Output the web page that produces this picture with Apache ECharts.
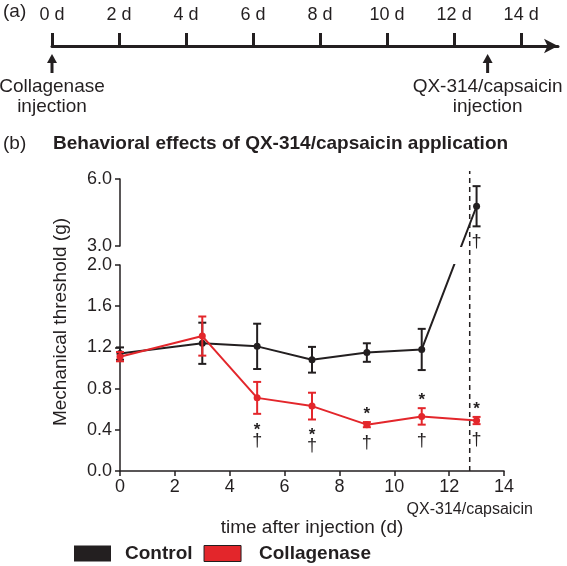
<!DOCTYPE html>
<html><head><meta charset="utf-8">
<script src="https://cdn.jsdelivr.net/npm/echarts@6/dist/echarts.min.js"></script>
<style>html,body{margin:0;padding:0;background:#fff}#c{width:567px;height:566px}</style>
</head><body><div id="c"></div>
<script>
// ---------- data ----------
const days = [0, 3, 5, 7, 9, 11, 13];
const controlMean = [1.14, 1.24, 1.21, 1.08, 1.15, 1.18, 4.78];
const controlErr = [0.06, 0.20, 0.22, 0.125, 0.09, 0.20, 0.90];
const collagenaseMean = [1.11, 1.31, 0.71, 0.63, 0.45, 0.53, 0.49];
const collagenaseErr = [0.045, 0.19, 0.155, 0.13, 0.025, 0.08, 0.035];
// significance marks: star side 0 none, 1 below, 2 above ; dagger 0/1
const colStarSide = [0, 0, 1, 1, 2, 2, 2];
const colDagger = [0, 0, 1, 1, 1, 1, 1];
const ctrlDagger = [0, 0, 0, 0, 0, 0, 1];
const xTicks = [0, 2, 4, 6, 8, 10, 12, 14];
const timelineDays = [0, 2, 4, 6, 8, 10, 12, 14];
const eventDays = [0, 13];
const eventLine1 = ['Collagenase', 'QX-314/capsaicin'];
const eventLine2 = ['injection', 'injection'];
const treatmentDay = 12.75;
const treatmentLabel = 'QX-314/capsaicin';
const seriesNames = ['Control', 'Collagenase'];

// ---------- style / layout ----------
const FONT = '"Liberation Sans", Arial, Helvetica, sans-serif';
const INK = '#231f20';
const RED = '#e3262b';
const plotLeft = 120, plotWidth = 384;
const upTop = 179, upH = 67, upMin = 3, upMax = 6;
const loTop = 265, loH = 206, loMin = 0, loMax = 2;
const upPx = upH / (upMax - upMin), loPx = loH / (loMax - loMin);
const gapPx = loTop - (upTop + upH);

function lowerVirt(v) { return v <= loMax ? v : loMax + (gapPx + (v - upMin) * upPx) / loPx; }
function upperVirt(v) { return v >= upMin ? v : upMin - (gapPx + (loMax - v) * loPx) / upPx; }

function lineData(mean, grid) {
  return days.map((d, i) => {
    const v = mean[i];
    if (grid === 'lo') return v <= loMax ? [d, v] : { value: [d, lowerVirt(v)], symbol: 'none' };
    return v >= upMin ? [d, v] : { value: [d, upperVirt(v)], symbol: 'none' };
  });
}
function errData(mean, err, grid) {
  const out = [];
  days.forEach((d, i) => {
    const inLo = mean[i] <= loMax;
    if ((grid === 'lo') === inLo) out.push([d, mean[i], err[i]]);
  });
  return out;
}
function errRender(color) {
  return function (params, api) {
    const x = api.value(0), m = api.value(1), e = api.value(2);
    const t = api.coord([x, m + e]), b = api.coord([x, m - e]);
    const w = 4, st = { stroke: color, lineWidth: 2 };
    return { type: 'group', children: [
      { type: 'line', shape: { x1: t[0], y1: t[1], x2: b[0], y2: b[1] }, style: st },
      { type: 'line', shape: { x1: t[0] - w, y1: t[1], x2: t[0] + w, y2: t[1] }, style: st },
      { type: 'line', shape: { x1: b[0] - w, y1: b[1], x2: b[0] + w, y2: b[1] }, style: st }
    ] };
  };
}
function markData(mean, err, star, dagger, grid) {
  const out = [];
  days.forEach((d, i) => {
    const inLo = mean[i] <= loMax;
    if ((grid === 'lo') === inLo && (star[i] || dagger[i])) out.push([d, mean[i], err[i], star[i], dagger[i]]);
  });
  return out;
}
function markRender(params, api) {
  const x = api.value(0), m = api.value(1), e = api.value(2), s = api.value(3), dg = api.value(4);
  const t = api.coord([x, m + e]), b = api.coord([x, m - e]);
  const ch = [];
  const star = (y) => ({ type: 'text', style: { x: t[0], y: y + 4, text: '*', font: 'bold 17px ' + FONT, fill: INK, align: 'center', verticalAlign: 'middle' } });
  const dag = (y) => ({ type: 'text', style: { x: t[0], y: y, text: '\u2020', font: '18px ' + FONT, fill: INK, align: 'center', verticalAlign: 'middle' } });
  if (s === 1) { ch.push(star(b[1] + 12)); if (dg) ch.push(dag(b[1] + 27)); }
  else { if (s === 2) ch.push(star(t[1] - 12)); if (dg) ch.push(dag(b[1] + 16)); }
  return { type: 'group', children: ch };
}

const axisLabelStyle = { color: INK, fontSize: 18, fontFamily: FONT };

const option = {
  animation: false,
  backgroundColor: '#fff',
  textStyle: { fontFamily: FONT },
  grid: [
    { left: plotLeft, width: plotWidth, top: upTop, height: upH },
    { left: plotLeft, width: plotWidth, top: loTop, height: loH },
    { left: 52, width: 506, top: 46, height: 40 }
  ],
  xAxis: [
    { gridIndex: 0, type: 'value', min: 0, max: 14, show: false },
    { gridIndex: 1, type: 'value', min: 0, max: 14, interval: 2,
      axisLine: { onZero: false, lineStyle: { color: INK, width: 1.5 } },
      axisTick: { length: 5, lineStyle: { color: INK, width: 1.5 } },
      axisLabel: Object.assign({ margin: 7 }, axisLabelStyle),
      splitLine: { show: false },
      name: 'time after injection (d)', nameLocation: 'middle', nameGap: 47,
      nameTextStyle: { color: INK, fontSize: 19, fontFamily: FONT } },
    { gridIndex: 2, type: 'value', min: 0, max: 15.1, position: 'top',
      axisLine: { onZero: false, lineStyle: { color: INK, width: 3 }, symbol: ['none', 'arrow'], symbolSize: [11, 14] },
      axisTick: { length: 13, lineStyle: { color: INK, width: 3 }, customValues: timelineDays },
      axisLabel: Object.assign({ margin: 22, customValues: timelineDays, formatter: v => v + ' d' }, axisLabelStyle),
      splitLine: { show: false } }
  ],
  yAxis: [
    { gridIndex: 0, type: 'value', min: upMin, max: upMax, interval: 3,
      axisLine: { show: true, lineStyle: { color: INK, width: 1.5 } },
      axisTick: { show: true, length: 5, lineStyle: { color: INK, width: 1.5 } },
      axisLabel: Object.assign({ margin: 8, formatter: v => v.toFixed(1) }, axisLabelStyle),
      splitLine: { show: false } },
    { gridIndex: 1, type: 'value', min: loMin, max: loMax, interval: 0.4,
      axisLine: { show: true, onZero: false, lineStyle: { color: INK, width: 1.5 } },
      axisTick: { show: true, length: 5, lineStyle: { color: INK, width: 1.5 } },
      axisLabel: Object.assign({ margin: 8, formatter: v => v.toFixed(1) }, axisLabelStyle),
      splitLine: { show: false } },
    { gridIndex: 2, type: 'value', min: 0, max: 1, inverse: true, show: false }
  ],
  legend: {
    left: 74, top: 544, padding: 0, icon: 'rect', itemWidth: 37, itemHeight: 16, itemGap: 11,
    textStyle: { color: INK, fontSize: 19, fontWeight: 'bold', fontFamily: FONT },
    data: [
      { name: seriesNames[0], itemStyle: { color: INK }, textStyle: { padding: [0, 0, 0, 9] } },
      { name: seriesNames[1], itemStyle: { color: RED, borderColor: INK, borderWidth: 1 }, textStyle: { padding: [0, 0, 0, 13] } }
    ]
  },
  graphic: [
    { type: 'text', left: 3, top: 2, style: { text: '(a)', font: '19px ' + FONT, fill: INK } },
    { type: 'text', left: 3, top: 134, style: { text: '(b)', font: '19px ' + FONT, fill: INK } },
    { type: 'text', left: 53, top: 134, style: { text: 'Behavioral effects of QX-314/capsaicin application', font: 'bold 19px ' + FONT, fill: INK } },
    { type: 'text', x: 61, y: 322, rotation: Math.PI / 2,
      style: { text: 'Mechanical threshold (g)', font: '19px ' + FONT, fill: INK, align: 'center', verticalAlign: 'middle' } }
  ],
  series: [
    { name: seriesNames[0], type: 'line', xAxisIndex: 1, yAxisIndex: 1, data: lineData(controlMean, 'lo'),
      symbol: 'circle', symbolSize: 7, lineStyle: { color: INK, width: 2 }, itemStyle: { color: INK }, clip: true, z: 3 },
    { name: seriesNames[0], type: 'line', xAxisIndex: 0, yAxisIndex: 0, data: lineData(controlMean, 'up'),
      symbol: 'circle', symbolSize: 7, lineStyle: { color: INK, width: 2 }, itemStyle: { color: INK }, clip: true, z: 3 },
    { name: seriesNames[1], type: 'line', xAxisIndex: 1, yAxisIndex: 1, data: lineData(collagenaseMean, 'lo'),
      symbol: 'circle', symbolSize: 7, lineStyle: { color: RED, width: 2 }, itemStyle: { color: RED }, clip: true, z: 4 },
    { name: 'errCtrlLo', type: 'custom', xAxisIndex: 1, yAxisIndex: 1, data: errData(controlMean, controlErr, 'lo'), renderItem: errRender(INK), z: 3 },
    { name: 'errCtrlUp', type: 'custom', xAxisIndex: 0, yAxisIndex: 0, data: errData(controlMean, controlErr, 'up'), renderItem: errRender(INK), z: 3 },
    { name: 'errColLo', type: 'custom', xAxisIndex: 1, yAxisIndex: 1, data: errData(collagenaseMean, collagenaseErr, 'lo'), renderItem: errRender(RED), z: 4 },
    { name: 'markCol', type: 'custom', xAxisIndex: 1, yAxisIndex: 1,
      data: markData(collagenaseMean, collagenaseErr, colStarSide, colDagger, 'lo'), renderItem: markRender, clip: false, z: 5 },
    { name: 'markCtrl', type: 'custom', xAxisIndex: 0, yAxisIndex: 0,
      data: markData(controlMean, controlErr, days.map(() => 0), ctrlDagger, 'up'), renderItem: markRender, clip: false, z: 5 },
    { name: 'treatment', type: 'custom', xAxisIndex: 1, yAxisIndex: 1, data: [[treatmentDay, 0]], clip: false, z: 2,
      renderItem: function (params, api) {
        const b = api.coord([api.value(0), loMin]);
        return { type: 'group', children: [
          { type: 'line', shape: { x1: b[0], y1: b[1], x2: b[0], y2: upTop - 8 }, style: { stroke: INK, lineWidth: 1.5, lineDash: [5, 4] } },
          { type: 'text', style: { x: b[0], y: b[1] + 39, text: treatmentLabel, font: '16px ' + FONT, fill: INK, align: 'center', verticalAlign: 'middle' } }
        ] };
      } },
    { name: 'events', type: 'custom', xAxisIndex: 2, yAxisIndex: 2, data: eventDays.map((d, i) => [d, 0, i]), clip: false,
      renderItem: function (params, api) {
        const c = api.coord([api.value(0), 0]);
        const i = api.value(2);
        const x = c[0], y = c[1];
        return { type: 'group', children: [
          { type: 'line', shape: { x1: x, y1: y + 14, x2: x, y2: y + 27 }, style: { stroke: INK, lineWidth: 3 } },
          { type: 'polygon', shape: { points: [[x, y + 8], [x - 5, y + 17], [x + 5, y + 17]] }, style: { fill: INK } },
          { type: 'text', style: { x: x, y: y + 41, text: eventLine1[i], font: '19px ' + FONT, fill: INK, align: 'center', verticalAlign: 'middle' } },
          { type: 'text', style: { x: x, y: y + 61, text: eventLine2[i], font: '19px ' + FONT, fill: INK, align: 'center', verticalAlign: 'middle' } }
        ] };
      } }
  ]
};
const chart = echarts.init(document.getElementById('c'), null, { renderer: 'canvas' });
chart.setOption(option);
</script></body></html>
